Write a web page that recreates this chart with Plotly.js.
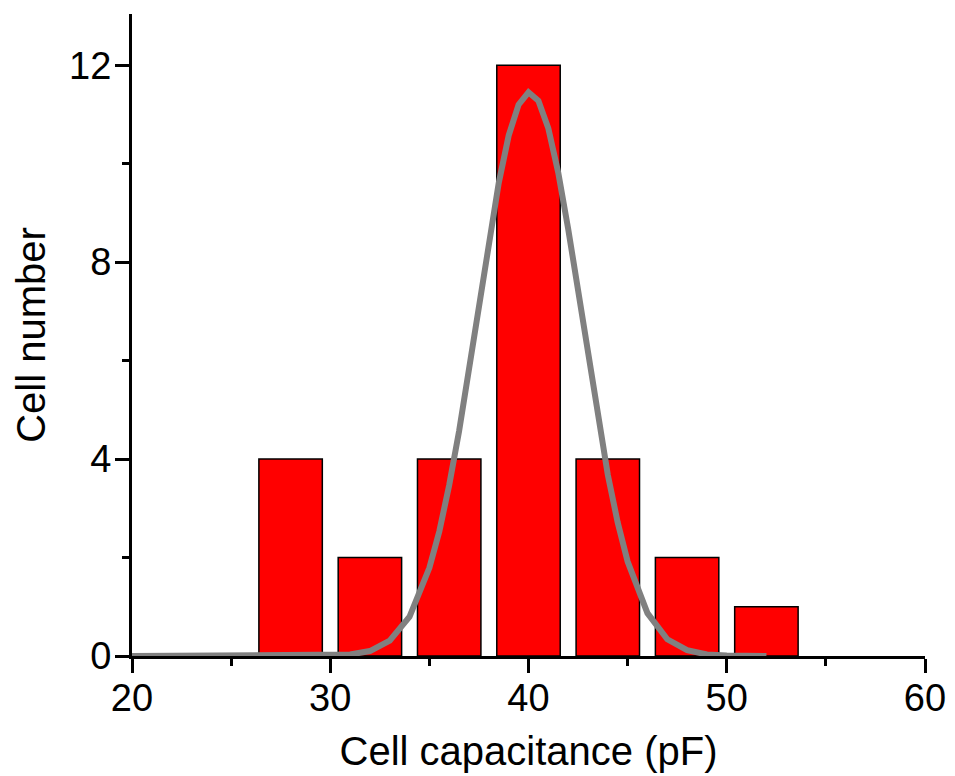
<!DOCTYPE html>
<html>
<head>
<meta charset="utf-8">
<script src="https://cdn.plot.ly/plotly-3.0.1.min.js"></script>
<style>html,body{margin:0;padding:0;background:#fff;}#chart{width:955px;height:776px;}</style>
</head>
<body>
<div id="chart"></div>
<script>
// Histogram bins (bin centers, pF) and counts
const binCenters = [28, 32, 36, 40, 44, 48, 52];
const cellCounts = [4, 2, 4, 12, 4, 2, 1];

// Gaussian fit curve
const fitX = [20, 26, 28, 30, 31, 32, 33, 34, 35, 35.5, 36, 36.5, 37, 37.5, 38, 38.5, 39, 39.5, 40, 40.5, 41, 41.5, 42, 42.5, 43, 43.5, 44, 44.5, 45, 46, 47, 48, 49, 50, 52];
const fitY = [0, 0, 0, 0.01, 0.03, 0.10, 0.31, 0.80, 1.79, 2.53, 3.47, 4.57, 5.82, 7.13, 8.43, 9.61, 10.57, 11.20, 11.45, 11.28, 10.72, 9.82, 8.68, 7.40, 6.08, 4.81, 3.68, 2.71, 1.92, 0.87, 0.34, 0.12, 0.03, 0.01, 0];

const xTickVals = [20, 30, 40, 50, 60];
const yTickVals = [0, 4, 8, 12];

const fontFam = 'Liberation Sans, Arial, sans-serif';

const traces = [
  {
    type: 'bar',
    x: binCenters,
    y: cellCounts,
    width: 3.2,
    marker: {color: '#ff0000', line: {color: '#000000', width: 1.5}},
    hoverinfo: 'x+y'
  },
  {
    type: 'scatter',
    mode: 'lines',
    x: fitX,
    y: fitY,
    line: {color: '#808080', width: 6},
    hoverinfo: 'x+y'
  }
];

const layout = {
  width: 955,
  height: 776,
  margin: {l: 132, r: 30, t: 14, b: 120},
  paper_bgcolor: '#ffffff',
  plot_bgcolor: '#ffffff',
  showlegend: false,
  font: {family: fontFam, color: '#000000'},
  xaxis: {
    range: [20, 60],
    tickvals: xTickVals,
    ticks: 'outside',
    ticklen: 14,
    tickwidth: 3,
    tickcolor: '#000',
    ticklabelstandoff: -8,
    showline: true,
    linecolor: '#000',
    linewidth: 3,
    showgrid: false,
    zeroline: false,
    tickfont: {size: 38, family: fontFam, color: '#000'},
    minor: {dtick: 5, tick0: 20, ticks: 'outside', ticklen: 7, tickwidth: 3, tickcolor: '#000', showgrid: false},
    title: {text: 'Cell capacitance (pF)', font: {size: 40, family: fontFam, color: '#000'}, standoff: 20}
  },
  yaxis: {
    range: [0, 13.04],
    tickvals: yTickVals,
    ticks: 'outside',
    ticklen: 14,
    tickwidth: 3,
    tickcolor: '#000',
    ticklabelstandoff: -4,
    showline: true,
    linecolor: '#000',
    linewidth: 3,
    showgrid: false,
    zeroline: false,
    tickfont: {size: 38, family: fontFam, color: '#000'},
    minor: {dtick: 2, tick0: 0, ticks: 'outside', ticklen: 7, tickwidth: 3, tickcolor: '#000', showgrid: false},
    title: {text: 'Cell number', font: {size: 40, family: fontFam, color: '#000'}, standoff: 12}
  },
  bargap: 0
};

Plotly.newPlot('chart', traces, layout, {displayModeBar: false, staticPlot: true});
</script>
</body>
</html>
